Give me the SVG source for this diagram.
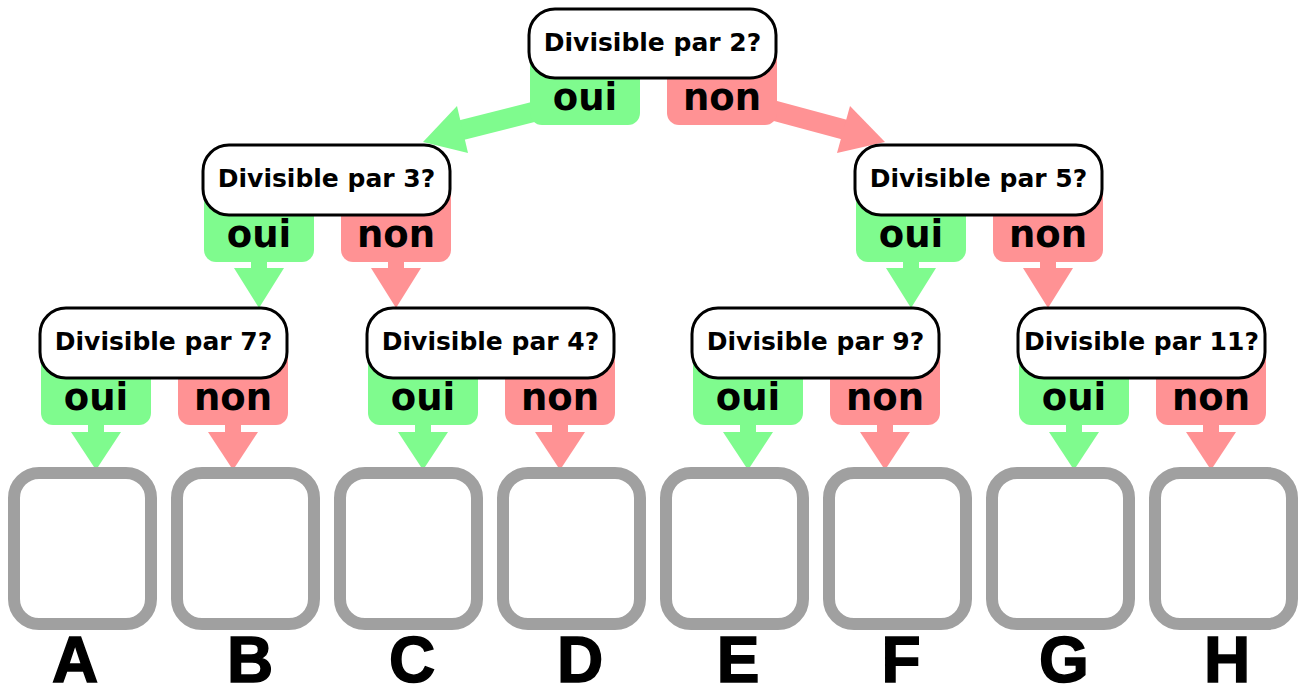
<svg xmlns="http://www.w3.org/2000/svg" width="1305" height="689" viewBox="0 0 1305 689">
<style>
.yes{fill:#7ffb8e}
.no{fill:#ff9294}
.yesl{stroke:#7ffb8e;stroke-width:20;fill:none}
.nol{stroke:#ff9294;stroke-width:20;fill:none}
.q{fill:#fff;stroke:#000;stroke-width:3}
.qt{font-family:"DejaVu Sans",Verdana,sans-serif;font-weight:bold;font-size:25px;fill:#000;text-anchor:middle}
.tt{font-family:"DejaVu Sans",Verdana,sans-serif;font-weight:bold;font-size:37px;fill:#000;text-anchor:middle}
.leaf{fill:#fff;stroke:#a0a0a0;stroke-width:12}
.lt{font-family:"Liberation Sans",Arial,sans-serif;font-weight:bold;font-size:64px;fill:#000;stroke:#000;stroke-width:1.5;text-anchor:middle}
</style>
<rect width="1305" height="689" fill="#fff"/>
<g id="connectors">
<line class="yesl" x1="537" y1="111" x2="458" y2="131"/>
<polygon class="yes" points="457,106 423,142 468,153"/>
<line class="nol" x1="768" y1="109" x2="846" y2="130"/>
<polygon class="no" points="850,106 885,142 837,153"/>
<rect class="yes" x="251" y="258" width="16" height="12"/><polygon class="yes" points="234,268 284,268 259,308"/>
<rect class="no" x="388" y="258" width="16" height="12"/><polygon class="no" points="371,268 421,268 396,308"/>
<rect class="yes" x="903" y="258" width="16" height="12"/><polygon class="yes" points="886,268 936,268 911,308"/>
<rect class="no" x="1040" y="258" width="16" height="12"/><polygon class="no" points="1023,268 1073,268 1048,308"/>
<rect class="yes" x="88" y="421" width="16" height="13"/><polygon class="yes" points="71,432 121,432 96,470"/>
<rect class="no" x="225" y="421" width="16" height="13"/><polygon class="no" points="208,432 258,432 233,470"/>
<rect class="yes" x="415" y="421" width="16" height="13"/><polygon class="yes" points="398,432 448,432 423,470"/>
<rect class="no" x="552" y="421" width="16" height="13"/><polygon class="no" points="535,432 585,432 560,470"/>
<rect class="yes" x="740" y="421" width="16" height="13"/><polygon class="yes" points="723,432 773,432 748,470"/>
<rect class="no" x="877" y="421" width="16" height="13"/><polygon class="no" points="860,432 910,432 885,470"/>
<rect class="yes" x="1066" y="421" width="16" height="13"/><polygon class="yes" points="1049,432 1099,432 1074,470"/>
<rect class="no" x="1203" y="421" width="16" height="13"/><polygon class="no" points="1186,432 1236,432 1211,470"/>
</g>
<g id="q2">
<rect class="yes" x="530" y="40" width="110" height="85" rx="12"/>
<rect class="no" x="667" y="40" width="110" height="85" rx="12"/>
<rect class="q" x="529" y="9" width="247" height="69" rx="26"/>
<text class="qt" x="652.5" y="51">Divisible par 2?</text>
<text class="tt" x="585" y="110">oui</text>
<text class="tt" x="722" y="110">non</text>
</g>
<g id="q3">
<rect class="yes" x="204" y="175" width="110" height="87" rx="12"/>
<rect class="no" x="341" y="175" width="110" height="87" rx="12"/>
<rect class="q" x="203" y="145" width="247" height="70" rx="26"/>
<text class="qt" x="326.5" y="187">Divisible par 3?</text>
<text class="tt" x="259" y="247">oui</text>
<text class="tt" x="396" y="247">non</text>
</g>
<g id="q5">
<rect class="yes" x="856" y="175" width="110" height="87" rx="12"/>
<rect class="no" x="993" y="175" width="110" height="87" rx="12"/>
<rect class="q" x="855" y="145" width="247" height="70" rx="26"/>
<text class="qt" x="978.5" y="187">Divisible par 5?</text>
<text class="tt" x="911" y="247">oui</text>
<text class="tt" x="1048" y="247">non</text>
</g>
<g id="q7">
<rect class="yes" x="41" y="338" width="110" height="87" rx="12"/>
<rect class="no" x="178" y="338" width="110" height="87" rx="12"/>
<rect class="q" x="40" y="308" width="247" height="70" rx="26"/>
<text class="qt" x="163.5" y="350">Divisible par 7?</text>
<text class="tt" x="96" y="410">oui</text>
<text class="tt" x="233" y="410">non</text>
</g>
<g id="q4">
<rect class="yes" x="368" y="338" width="110" height="87" rx="12"/>
<rect class="no" x="505" y="338" width="110" height="87" rx="12"/>
<rect class="q" x="367" y="308" width="247" height="70" rx="26"/>
<text class="qt" x="490.5" y="350">Divisible par 4?</text>
<text class="tt" x="423" y="410">oui</text>
<text class="tt" x="560" y="410">non</text>
</g>
<g id="q9">
<rect class="yes" x="693" y="338" width="110" height="87" rx="12"/>
<rect class="no" x="830" y="338" width="110" height="87" rx="12"/>
<rect class="q" x="692" y="308" width="247" height="70" rx="26"/>
<text class="qt" x="815.5" y="350">Divisible par 9?</text>
<text class="tt" x="748" y="410">oui</text>
<text class="tt" x="885" y="410">non</text>
</g>
<g id="q11">
<rect class="yes" x="1019" y="338" width="110" height="87" rx="12"/>
<rect class="no" x="1156" y="338" width="110" height="87" rx="12"/>
<rect class="q" x="1018" y="308" width="247" height="70" rx="26"/>
<text class="qt" x="1141.5" y="350">Divisible par 11?</text>
<text class="tt" x="1074" y="410">oui</text>
<text class="tt" x="1211" y="410">non</text>
</g>
<g id="leafA"><rect class="leaf" x="14" y="473" width="137" height="151" rx="25"/><text class="lt" x="75" y="682">A</text></g>
<g id="leafB"><rect class="leaf" x="177" y="473" width="137" height="151" rx="25"/><text class="lt" x="250" y="682">B</text></g>
<g id="leafC"><rect class="leaf" x="340" y="473" width="137" height="151" rx="25"/><text class="lt" x="412" y="682">C</text></g>
<g id="leafD"><rect class="leaf" x="503" y="473" width="137" height="151" rx="25"/><text class="lt" x="580" y="682">D</text></g>
<g id="leafE"><rect class="leaf" x="666" y="473" width="137" height="151" rx="25"/><text class="lt" x="738" y="682">E</text></g>
<g id="leafF"><rect class="leaf" x="829" y="473" width="137" height="151" rx="25"/><text class="lt" x="901" y="682">F</text></g>
<g id="leafG"><rect class="leaf" x="992" y="473" width="137" height="151" rx="25"/><text class="lt" x="1064" y="682">G</text></g>
<g id="leafH"><rect class="leaf" x="1155" y="473" width="137" height="151" rx="25"/><text class="lt" x="1227" y="682">H</text></g>
</svg>
